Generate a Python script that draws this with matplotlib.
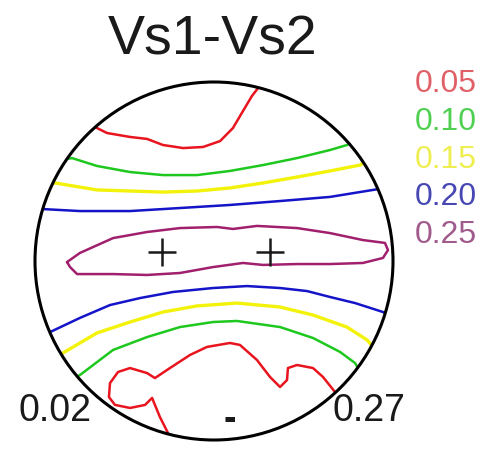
import matplotlib

matplotlib.use("Agg")
import matplotlib.pyplot as plt
import numpy as np
from matplotlib.patches import Circle

# Contour levels of Vs1-Vs2 (km/s) and their colours
LEVELS = ["0.05", "0.10", "0.15", "0.20", "0.25"]
LINE_COLORS = ["#e8141e", "#1ec81e", "#f2f20a", "#1414c8", "#a0206e"]
LABEL_COLORS = ["#e06068", "#50d050", "#eeee50", "#4848b4", "#a05a8c"]

MIN_VALUE = "0.02"
MAX_VALUE = "0.27"

# Contour traces in equal-area projection coordinates (unit circle)
c005_top = [(-0.70, 0.76), (-0.676, 0.754), (-0.598, 0.715), (-0.469, 0.693),
            (-0.374, 0.682), (-0.285, 0.648), (-0.173, 0.631), (-0.061, 0.637),
            (0.034, 0.670), (0.106, 0.743), (0.162, 0.838), (0.212, 0.922),
            (0.246, 0.966), (0.255, 1.0)]
c005_bottom = [(-0.265, -0.99), (-0.257, -0.961), (-0.302, -0.872), (-0.346, -0.765),
               (-0.385, -0.804), (-0.469, -0.821), (-0.553, -0.804), (-0.587, -0.760),
               (-0.581, -0.682), (-0.536, -0.620), (-0.469, -0.598), (-0.374, -0.626),
               (-0.330, -0.654), (-0.246, -0.598), (-0.134, -0.525), (-0.039, -0.480),
               (0.089, -0.458), (0.145, -0.469), (0.240, -0.553), (0.313, -0.648),
               (0.369, -0.704), (0.408, -0.665), (0.413, -0.598), (0.464, -0.581),
               (0.553, -0.598), (0.609, -0.648), (0.676, -0.732), (0.69, -0.745)]
c010_top = [(-0.82, 0.57), (-0.793, 0.575), (-0.654, 0.531), (-0.469, 0.497),
            (-0.285, 0.480), (-0.095, 0.480), (0.089, 0.503), (0.274, 0.536),
            (0.464, 0.575), (0.648, 0.620), (0.743, 0.648), (0.77, 0.66)]
c010_bottom = [(-0.77, -0.65), (-0.749, -0.637), (-0.564, -0.497), (-0.374, -0.425),
               (-0.190, -0.369), (-0.006, -0.341), (0.128, -0.335), (0.369, -0.369),
               (0.553, -0.430), (0.704, -0.508), (0.788, -0.570), (0.80, -0.59)]
c015_top = [(-0.91, 0.43), (-0.888, 0.436), (-0.654, 0.397), (-0.469, 0.391),
            (-0.285, 0.385), (-0.095, 0.391), (0.089, 0.408), (0.274, 0.436),
            (0.464, 0.469), (0.648, 0.503), (0.816, 0.536), (0.84, 0.55)]
c015_bottom = [(-0.86, -0.53), (-0.844, -0.514), (-0.654, -0.402), (-0.469, -0.341),
               (-0.285, -0.285), (-0.095, -0.251), (0.128, -0.235), (0.369, -0.257),
               (0.553, -0.302), (0.743, -0.369), (0.855, -0.441), (0.88, -0.47)]
c020_top = [(-0.972, 0.291), (-0.749, 0.279), (-0.469, 0.279), (-0.190, 0.296),
            (0.089, 0.313), (0.369, 0.335), (0.648, 0.358), (0.888, 0.397),
            (0.955, 0.408)]
c020_bottom = [(-0.94, -0.41), (-0.916, -0.397), (-0.749, -0.318), (-0.581, -0.246),
               (-0.413, -0.207), (-0.229, -0.173), (-0.006, -0.151), (0.184, -0.140),
               (0.369, -0.151), (0.520, -0.168), (0.648, -0.201), (0.788, -0.235),
               (0.944, -0.285), (0.97, -0.30)]
c025_loop = [(-0.821, -0.006), (-0.749, 0.045), (-0.564, 0.128), (-0.374, 0.162),
             (-0.190, 0.184), (0.017, 0.190), (0.106, 0.179), (0.240, 0.196),
             (0.464, 0.184), (0.648, 0.156), (0.832, 0.117), (0.955, 0.101),
             (0.972, 0.061), (0.944, 0.017), (0.832, -0.011), (0.648, -0.017),
             (0.464, -0.017), (0.274, -0.022), (0.162, -0.011), (-0.006, -0.034),
             (-0.190, -0.067), (-0.374, -0.078), (-0.564, -0.073), (-0.765, -0.073),
             (-0.804, -0.034), (-0.821, -0.006)]

CONTOURS = [
    (0, c005_top), (0, c005_bottom),
    (1, c010_top), (1, c010_bottom),
    (2, c015_top), (2, c015_bottom),
    (3, c020_top), (3, c020_bottom),
    (4, c025_loop),
]

# Maxima positions
max_x = [-0.291, 0.313]
max_y = [0.050, 0.050]

plt.rcParams["font.family"] = ["Liberation Sans", "DejaVu Sans"]

fig = plt.figure(figsize=(4.98, 4.5), dpi=100)
fig.patch.set_facecolor("white")
ax = fig.add_axes([35 / 498, 1 - 440 / 450, 358 / 498, 358 / 450])
ax.set_xlim(-1, 1)
ax.set_ylim(-1, 1)
ax.axis("off")

net = Circle((0, 0), 1.0, facecolor="none", edgecolor="black", lw=2.2, zorder=5,
             clip_on=False)
ax.add_patch(net)
clip = Circle((0, 0), 1.0, transform=ax.transData)

for idx, pts in CONTOURS:
    arr = np.array(pts)
    lw = 2.4 if idx == 2 else 1.8
    (line,) = ax.plot(arr[:, 0], arr[:, 1], color=LINE_COLORS[idx], lw=lw,
                      solid_joinstyle="round", solid_capstyle="round", zorder=3)
    line.set_clip_path(clip)

ax.plot(max_x, max_y, linestyle="none", marker="+", markersize=20,
        markeredgewidth=1.8, color="#1a1a1a", zorder=4)

fig.text(0.426, 0.911, "Vs1-Vs2", fontsize=40, ha="center", va="center",
         color="#1a1a1a")

legend_y = [0.813, 0.729, 0.644, 0.562, 0.478]
for label, color, y in zip(LEVELS, LABEL_COLORS, legend_y):
    fig.text(0.833, y, label, fontsize=23, ha="left", va="center", color=color)

fig.text(0.110, 0.086, MIN_VALUE, fontsize=27, ha="center", va="center",
         color="#1a1a1a")
fig.text(0.741, 0.086, MAX_VALUE, fontsize=27, ha="center", va="center",
         color="#1a1a1a")
fig.text(0.462, 0.067, "-", fontsize=27, ha="center", va="center",
         color="#1a1a1a", fontweight="bold")

fig.savefig("out.png", dpi=100)
